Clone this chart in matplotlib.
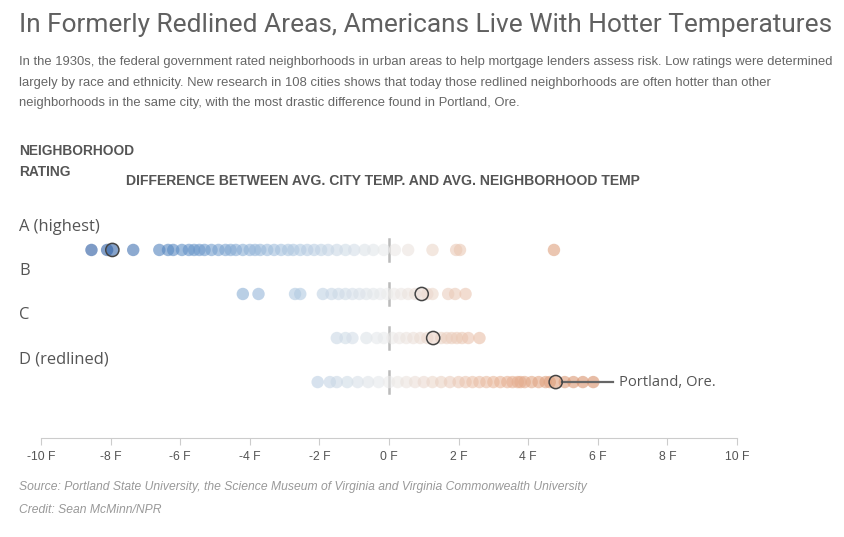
import matplotlib
matplotlib.use("Agg")
import matplotlib.pyplot as plt
from matplotlib.colors import LinearSegmentedColormap, Normalize
from matplotlib.transforms import blended_transform_factory

# ratings, top to bottom
ratings = ["A (highest)", "B", "C", "D (redlined)"]

# temperature difference (F) for each city, per rating
temps_a = [-8.55, -8.1, -7.95, -7.35, -6.6, -6.35, -6.2, -5.95, -5.75, -5.6, -5.45, -5.3,
           -5.1, -4.9, -4.7, -4.55, -4.4, -4.2, -4.0, -3.85, -3.7, -3.5, -3.3, -3.1,
           -2.9, -2.75, -2.55, -2.35, -2.15, -1.95, -1.75, -1.5, -1.25, -1.0, -0.7,
           -0.45, -0.15, 0.17, 0.55, 1.25, 1.93, 2.04, 4.74]
temps_b = [-4.2, -3.75, -2.7, -2.55, -1.9, -1.65, -1.45, -1.25, -1.05, -0.85, -0.65,
           -0.45, -0.25, -0.05, 0.15, 0.35, 0.55, 0.75, 0.95, 1.1, 1.25, 1.7, 1.9, 2.2]
temps_c = [-1.5, -1.25, -1.05, -0.65, -0.35, -0.15, 0.1, 0.3, 0.5, 0.7, 0.9, 1.1,
           1.3, 1.5, 1.66, 1.8, 1.95, 2.1, 2.28, 2.6]
temps_d = [-2.05, -1.7, -1.5, -1.2, -0.9, -0.6, -0.3, 0.0, 0.25, 0.5, 0.75, 1.0,
           1.25, 1.5, 1.75, 2.0, 2.2, 2.4, 2.6, 2.8, 3.0, 3.2, 3.4, 3.55, 3.7,
           3.78, 3.9, 4.1, 4.3, 4.5, 4.62, 4.79, 5.05, 5.3, 5.57, 5.87]
temps = [temps_a, temps_b, temps_c, temps_d]

# Portland, Ore. in each rating
portland = [-7.95, 0.94, 1.27, 4.79]

xticks = [-10, -8, -6, -4, -2, 0, 2, 4, 6, 8, 10]

TEXT = "#555555"
LIGHT = "#999999"
NARROW = ["Liberation Sans", "DejaVu Sans"]

cmap = LinearSegmentedColormap.from_list(
    "div", ["#1f4f9a", "#5f8fc6", "#a9c4df", "#ececec", "#e9b89c", "#d78f68", "#c4643a"])
norm = Normalize(vmin=-9, vmax=9)

fig = plt.figure(figsize=(8.45, 5.37), dpi=100, facecolor="white")
W, H = 845, 537

# header texts
fig.text(19 / W, 1 - 25 / H, "In Formerly Redlined Areas, Americans Live With Hotter Temperatures",
         fontsize=18.9, color="#606060", family="Roboto", va="center")
body = ("In the 1930s, the federal government rated neighborhoods in urban areas to help mortgage lenders assess risk. Low ratings were determined\n"
        "largely by race and ethnicity. New research in 108 cities shows that today those redlined neighborhoods are often hotter than other\n"
        "neighborhoods in the same city, with the most drastic difference found in Portland, Ore.")
fig.text(19 / W, 1 - 56 / H, body, fontsize=9.4, color="#666666",
         family=NARROW, va="top", linespacing=1.95)
fig.text(19 / W, 1 - 151 / H, "NEIGHBORHOOD", fontsize=9.9, color=TEXT, fontweight="bold",
         family=NARROW, va="center")
fig.text(19 / W, 1 - 172 / H, "RATING", fontsize=9.9, color=TEXT, fontweight="bold",
         family=NARROW, va="center")
fig.text(126 / W, 1 - 181 / H, "DIFFERENCE BETWEEN AVG. CITY TEMP. AND AVG. NEIGHBORHOOD TEMP",
         fontsize=10.1, color=TEXT, fontweight="bold", family=NARROW, va="center")

# plot area: x from -10 to 10, rows spaced evenly
ax = fig.add_axes([41 / W, 1 - 438 / H, 696 / W, 218 / H])
ax.set_xlim(-10, 10)
ax.set_ylim(4.27, -0.68)

label_tr = blended_transform_factory(fig.transFigure, ax.transData)
for i, (name, vals) in enumerate(zip(ratings, temps)):
    ax.text(19 / W, i - 0.52, name, transform=label_tr, fontsize=11.9, color=TEXT,
            family="Open Sans", va="center")
    ax.plot([0, 0], [i - 0.24, i + 0.24], color="#bbbbbb", lw=1.8, zorder=1)
    ax.scatter(vals, [i] * len(vals), s=80, c=vals, cmap=cmap, norm=norm,
               alpha=0.6, linewidths=0, zorder=2)
    ax.scatter([portland[i]], [i], s=90, facecolor="none", edgecolor="#444444",
               linewidths=1.1, zorder=4)

# Portland callout
ax.plot([portland[3] + 0.17, 6.45], [3, 3], color="#666666", lw=1.6, zorder=3)
ax.text(6.6, 3, "Portland, Ore.", fontsize=10.6, color=TEXT, family="Open Sans", va="center")

for side in ["top", "right", "left"]:
    ax.spines[side].set_visible(False)
ax.spines["bottom"].set_color("#cccccc")
ax.set_yticks([])
ax.set_xticks(xticks)
ax.set_xticklabels([f"{t} F" for t in xticks], family=NARROW, fontsize=8.8, color=TEXT)
ax.tick_params(axis="x", colors="#cccccc", length=5, labelcolor=TEXT, pad=4)
ax.patch.set_alpha(0)

fig.text(19 / W, 1 - 487 / H,
         "Source: Portland State University, the Science Museum of Virginia and Virginia Commonwealth University",
         fontsize=8.7, color=LIGHT, style="italic", family=NARROW, va="center")
fig.text(19 / W, 1 - 510 / H, "Credit: Sean McMinn/NPR", fontsize=8.7, color=LIGHT, style="italic",
         family=NARROW, va="center")

fig.savefig("out.png", dpi=100, facecolor="white")
